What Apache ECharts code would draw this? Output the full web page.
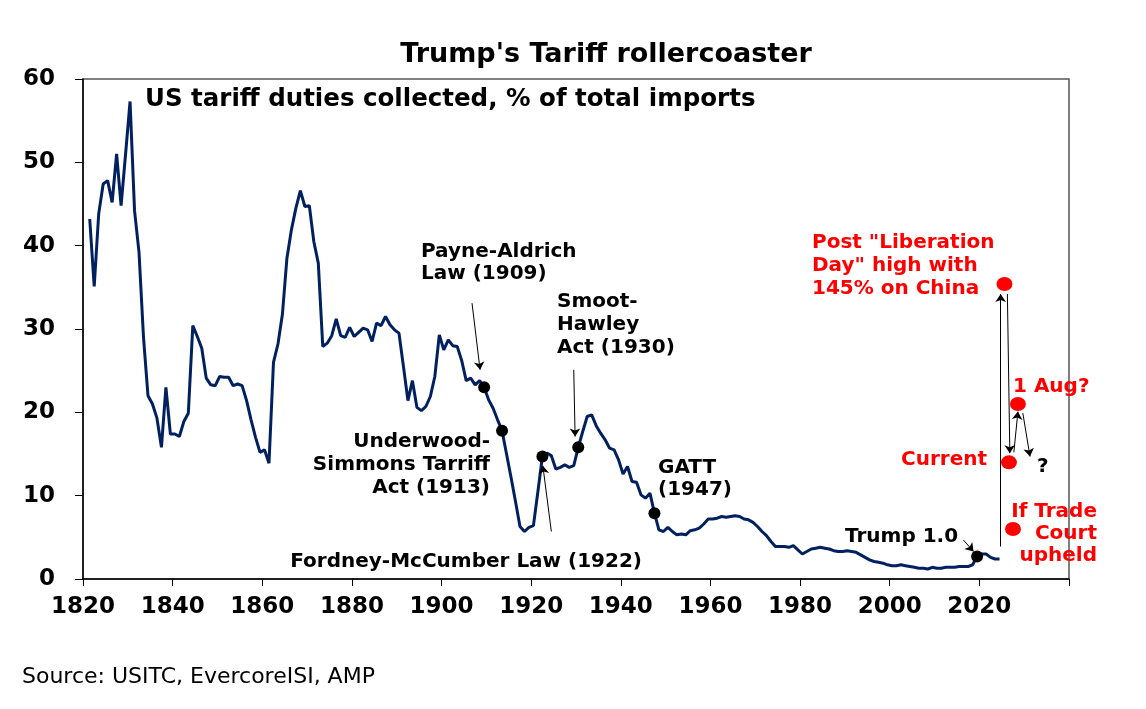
<!DOCTYPE html>
<html>
<head>
<meta charset="utf-8">
<script src="https://cdn.jsdelivr.net/npm/echarts@6/dist/echarts.min.js"></script>
<style>
  html, body { margin: 0; padding: 0; background: #fff; }
  #main { width: 1146px; height: 709px; }
</style>
</head>
<body>
<div id="main"></div>
<script>
// US tariff duties collected, % of total imports, one value per year from 1821
const firstYear = 1821;
const dutyPct = [
  43.2, 35.1, 43.8, 47.4, 47.8, 45.2, 51.0, 44.8, 51.0,             // 1821-1829
  57.3, 44.2, 39.2, 29.0, 22.0, 21.0, 19.3, 15.8, 23.0, 17.4,       // 1830s
  17.4, 17.1, 18.9, 19.9, 30.4, 29.1, 27.7, 24.1, 23.3, 23.2,       // 1840s
  24.3, 24.2, 24.2, 23.2, 23.4, 23.2, 21.4, 19.1, 17.0, 15.2,       // 1850s
  15.5, 13.9, 26.0, 28.2, 31.8, 38.5, 41.9, 44.5, 46.6, 44.7,       // 1860s
  44.8, 40.5, 37.9, 27.9, 28.3, 29.2, 31.2, 29.2, 29.0, 30.2,       // 1870s
  29.1, 29.6, 30.1, 29.9, 28.5, 30.7, 30.4, 31.5, 30.5, 29.9,       // 1880s
  29.5, 25.5, 21.4, 23.8, 20.6, 20.2, 20.7, 21.9, 24.3, 29.3,       // 1890s
  27.5, 28.7, 28.0, 27.9, 26.2, 23.8, 24.1, 23.3, 23.8, 23.0,       // 1900s
  21.5, 20.5, 19.1, 17.8, 15.0, 12.2, 9.3, 6.3, 5.7, 6.2,           // 1910s
  6.4, 10.5, 14.7, 15.1, 14.8, 13.2, 13.4, 13.7, 13.4, 13.6,        // 1920s
  15.8, 17.7, 19.5, 19.7, 18.4, 17.5, 16.7, 15.7, 15.5, 14.3,       // 1930s
  12.6, 13.5, 11.7, 11.6, 10.1, 9.7, 10.3, 7.9, 5.9, 5.7,           // 1940s
  6.2, 5.7, 5.3, 5.4, 5.3, 5.8, 5.9, 6.1, 6.6, 7.2,                 // 1950s
  7.2, 7.3, 7.5, 7.4, 7.5, 7.6, 7.5, 7.2, 7.1, 6.8,                 // 1960s
  6.3, 5.7, 5.2, 4.5, 3.9, 3.9, 3.9, 3.8, 4.0, 3.5,                 // 1970s
  3.0, 3.3, 3.6, 3.7, 3.8, 3.7, 3.6, 3.4, 3.3, 3.3,                 // 1980s
  3.4, 3.3, 3.2, 2.9, 2.6, 2.3, 2.1, 2.0, 1.9, 1.7,                 // 1990s
  1.6, 1.6, 1.7, 1.6, 1.5, 1.4, 1.3, 1.3, 1.2, 1.4,                 // 2000s
  1.3, 1.3, 1.4, 1.4, 1.4, 1.5, 1.5, 1.5, 1.7, 2.7,                 // 2010s
  3.0, 3.0, 2.6, 2.4, 2.4                                           // 2020-2024
];

// years marked with a black dot
const eventYears = [1909, 1913, 1922, 1930, 1947, 2019];

// red scenario dots: position on the year axis and tariff level
const scenarioNames = ["Liberation Day high", "1 Aug", "Current", "Trade Court upheld"];
const scenarioX = [2025.6, 2028.6, 2026.6, 2027.5];
const scenarioPct = [35.4, 21.0, 14.0, 6.0];

// arrows [from, to] in axis units
const arrows = [
  [[1906.8, 33.1], [1908.6, 25.1]],   // Payne-Aldrich
  [[1929.5, 25.1], [1929.8, 17.1]],   // Smoot-Hawley
  [[1924.5, 5.7], [1922.6, 13.6]],    // Fordney-McCumber
  [[2016.4, 4.7], [2018.7, 3.3]],     // Trump 1.0
  [[2024.75, 3.9], [2024.75, 34.2]],  // up to Liberation Day
  [[2026.25, 34.2], [2026.8, 15.1]],  // down to current
  [[2027.7, 15.2], [2028.6, 20.1]],   // up to 1 Aug
  [[2029.7, 19.9], [2031.3, 14.7]]    // then ?
];

const xTicks = { min: 1820, max: 2040, step: 20 };
const yTicks = { min: 0, max: 60, step: 10 };

// yearly points sit at mid-year, as in the original chart
const lineData = dutyPct.map((v, i) => [firstYear + i + 0.5, v]);
const eventData = eventYears.map((y) => [y + 0.5, dutyPct[y - firstYear]]);
const scenarioData = scenarioX.map((x, i) => ({ name: scenarioNames[i], value: [x, scenarioPct[i]] }));

const BOLD = "DejaVu Sans";

function note(text, x, y, opts) {
  return {
    type: "text",
    x: x,
    y: y,
    z: 100,
    style: Object.assign({
      text: text,
      fill: "#000",
      fontFamily: BOLD,
      fontWeight: "bold",
      fontSize: 20,
      lineHeight: 22,
      align: "left",
      verticalAlign: "top"
    }, opts || {})
  };
}

const RED = "#ff0000";

const chart = echarts.init(document.getElementById("main"));

const option = {
  animation: false,
  backgroundColor: "#fff",
  grid: {
    left: 83,
    right: 77,
    top: 79,
    bottom: 130,
    show: true,
    borderColor: "#555",
    borderWidth: 1.5
  },
  xAxis: {
    type: "value",
    min: xTicks.min,
    max: xTicks.max,
    interval: xTicks.step,
    splitLine: { show: false },
    axisLine: { lineStyle: { color: "#000", width: 1.5 } },
    axisTick: { show: true, length: 7, lineStyle: { color: "#000" } },
    axisLabel: {
      margin: 17,
      color: "#000",
      fontFamily: BOLD,
      fontWeight: "bold",
      fontSize: 23,
      formatter: (v) => (v === xTicks.max ? "" : String(v))
    }
  },
  yAxis: {
    type: "value",
    min: yTicks.min,
    max: yTicks.max,
    interval: yTicks.step,
    splitLine: { show: false },
    axisLine: { show: true, lineStyle: { color: "#000", width: 1.5 } },
    axisTick: { show: true, length: 8, lineStyle: { color: "#000" } },
    axisLabel: {
      margin: 28,
      color: "#000",
      fontFamily: BOLD,
      fontWeight: "bold",
      fontSize: 23
    }
  },
  series: [
    {
      name: "Duties",
      type: "line",
      data: lineData,
      showSymbol: false,
      lineStyle: { color: "#002060", width: 3 },
      z: 2
    },
    {
      name: "Events",
      type: "scatter",
      data: eventData,
      symbolSize: 12,
      itemStyle: { color: "#000", opacity: 1 },
      z: 4
    },
    {
      name: "Scenarios",
      type: "scatter",
      data: scenarioData,
      symbolSize: [16, 14],
      itemStyle: { color: RED, opacity: 1 },
      z: 4
    },
    {
      name: "Arrows",
      type: "lines",
      coordinateSystem: "cartesian2d",
      data: arrows.map((a) => ({ coords: a })),
      symbol: ["none", "arrow"],
      symbolSize: 8,
      lineStyle: { color: "#000", width: 1, opacity: 1 },
      z: 3
    }
  ],
  graphic: [
    note("Trump's Tariff rollercoaster", 606, 55, { fontSize: 27, align: "center", verticalAlign: "middle" }),
    note("US tariff duties collected, % of total imports", 145, 100, { fontSize: 24.5, verticalAlign: "middle" }),
    note("Payne-Aldrich\nLaw (1909)", 421, 240.5),
    note("Smoot-\nHawley\nAct (1930)", 557, 290, { lineHeight: 23.3 }),
    note("Underwood-\nSimmons Tarriff\nAct (1913)", 490, 430, { align: "right", lineHeight: 23.3 }),
    note("Fordney-McCumber Law (1922)", 642, 562, { align: "right", verticalAlign: "middle" }),
    note("GATT\n(1947)", 658, 457),
    note("Trump 1.0", 845, 537, { verticalAlign: "middle" }),
    note("Post \"Liberation\nDay\" high with\n145% on China", 812, 231, { fill: RED, lineHeight: 23 }),
    note("1 Aug?", 1013, 387, { fill: RED, verticalAlign: "middle" }),
    note("Current", 987, 460, { fill: RED, align: "right", verticalAlign: "middle" }),
    note("If Trade\nCourt\nupheld", 1097, 501, { fill: RED, align: "right", lineHeight: 22 }),
    note("?", 1037, 467, { verticalAlign: "middle" }),
    note("Source: USITC, EvercoreISI, AMP", 22, 677, { fontWeight: "normal", fontSize: 22, verticalAlign: "middle" })
  ]
};

chart.setOption(option);
</script>
</body>
</html>
